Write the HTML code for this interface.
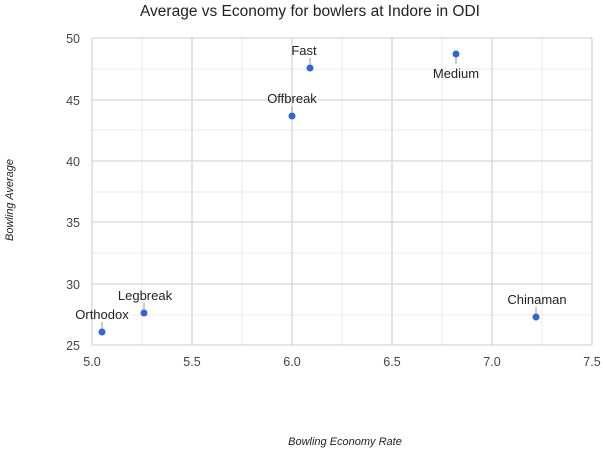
<!DOCTYPE html><html><head><style>body{margin:0;background:#fff}</style></head><body>
<svg width="603" height="450" xmlns="http://www.w3.org/2000/svg" font-family="Liberation Sans, Arial, sans-serif">
<rect width="603" height="450" fill="#fff"/>
<text x="310" y="16" text-anchor="middle" font-size="15.5" fill="#222">Average vs Economy for bowlers at Indore in ODI</text>
<g stroke="#ebebeb" stroke-width="1">
<line x1="92" y1="69" x2="592" y2="69"/><line x1="92" y1="130" x2="592" y2="130"/><line x1="92" y1="192" x2="592" y2="192"/><line x1="92" y1="253" x2="592" y2="253"/><line x1="92" y1="315" x2="592" y2="315"/>
<line x1="142" y1="38" x2="142" y2="345"/><line x1="242" y1="38" x2="242" y2="345"/><line x1="342" y1="38" x2="342" y2="345"/><line x1="442" y1="38" x2="442" y2="345"/><line x1="542" y1="38" x2="542" y2="345"/>
</g>
<g stroke="#d6d6d6" stroke-width="1.3">
<line x1="92" y1="38" x2="592" y2="38"/><line x1="92" y1="100" x2="592" y2="100"/><line x1="92" y1="161" x2="592" y2="161"/><line x1="92" y1="222" x2="592" y2="222"/><line x1="92" y1="284" x2="592" y2="284"/><line x1="92" y1="345" x2="592" y2="345"/>
<line x1="92" y1="38" x2="92" y2="345"/><line x1="192" y1="38" x2="192" y2="345"/><line x1="292" y1="38" x2="292" y2="345"/><line x1="392" y1="38" x2="392" y2="345"/><line x1="492" y1="38" x2="492" y2="345"/><line x1="592" y1="38" x2="592" y2="345"/>
</g>
<g font-size="12.5" fill="#444" text-anchor="end">
<text x="80" y="43">50</text><text x="80" y="105">45</text><text x="80" y="166">40</text><text x="80" y="227">35</text><text x="80" y="289">30</text><text x="80" y="350">25</text>
</g>
<g font-size="12.5" fill="#444" text-anchor="middle">
<text x="92" y="366">5.0</text><text x="192" y="366">5.5</text><text x="292" y="366">6.0</text><text x="392" y="366">6.5</text><text x="492" y="366">7.0</text><text x="592" y="366">7.5</text>
</g>
<text x="345" y="445" text-anchor="middle" font-size="11" font-style="italic" fill="#222">Bowling Economy Rate</text>
<text transform="translate(13,200) rotate(-90)" text-anchor="middle" font-size="11" font-style="italic" fill="#222">Bowling Average</text>
<g stroke="#999" stroke-width="1">
<line x1="102" y1="332" x2="102" y2="322"/><line x1="144" y1="313" x2="144" y2="303"/><line x1="292" y1="116" x2="292" y2="106"/><line x1="310" y1="68" x2="310" y2="58"/><line x1="456" y1="54" x2="456" y2="64"/><line x1="536" y1="317" x2="536" y2="307"/>
</g>
<g fill="#3366cc">
<circle cx="102" cy="332" r="3.5"/><circle cx="144" cy="313" r="3.5"/><circle cx="292" cy="116" r="3.5"/><circle cx="310" cy="68" r="3.5"/><circle cx="456" cy="54" r="3.5"/><circle cx="536" cy="317" r="3.5"/>
</g>
<g font-size="13" fill="#222" text-anchor="middle">
<text x="102" y="319">Orthodox</text><text x="145" y="300">Legbreak</text><text x="292" y="103">Offbreak</text><text x="304" y="55">Fast</text><text x="456" y="78">Medium</text><text x="537" y="304">Chinaman</text>
</g>
</svg>
</body></html>
